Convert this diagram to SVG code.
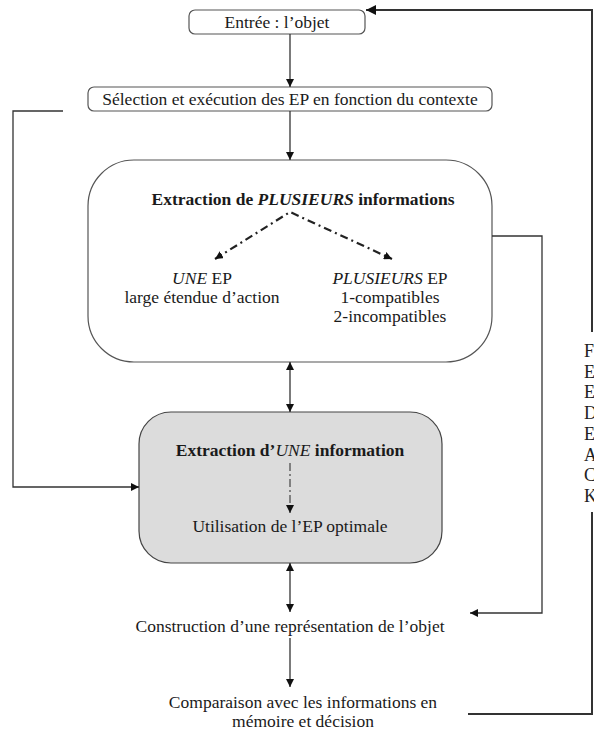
<svg xmlns="http://www.w3.org/2000/svg" width="594" height="731" viewBox="0 0 594 731">
<style>
text{font-family:"Liberation Serif","Times New Roman",serif;font-size:17.5px;fill:#1a1a1a;}
.c{text-anchor:middle;}
.b{font-weight:bold;}
.i{font-style:italic;}
.box{fill:#fff;stroke:#555;stroke-width:1.2;}
.gray{fill:#dcdcdc;stroke:#444;stroke-width:1.2;}
.ln{fill:none;stroke:#333;stroke-width:1.3;}
.fb{fill:none;stroke:#333;stroke-width:2;}
.dd{fill:none;stroke:#222;stroke-width:2.2;stroke-dasharray:8 4 2 4;}
.dd2{fill:none;stroke:#444;stroke-width:1.2;stroke-dasharray:8 3 2 3;}
.fbt{font-family:"Liberation Serif","Times New Roman",serif;font-size:18px;fill:#222;}
</style>
<defs>
<marker id="ah" viewBox="0 0 10 10" refX="10" refY="5" markerWidth="8" markerHeight="8" markerUnits="userSpaceOnUse" orient="auto-start-reverse"><path d="M0,0 L10,5 L0,10 z" fill="#111"/></marker>
<marker id="ahb" viewBox="0 0 10 10" refX="10" refY="5" markerWidth="10" markerHeight="10" markerUnits="userSpaceOnUse" orient="auto-start-reverse"><path d="M0,0 L10,5 L0,10 z" fill="#111"/></marker>
</defs>
<rect width="594" height="731" fill="#fff"/>

<g id="entree">
<rect class="box" x="189" y="10" width="176" height="24" rx="6"/>
<text class="c" x="277" y="28">Entrée : l’objet</text>
</g>

<g id="selection">
<rect class="box" x="88" y="87" width="404" height="24" rx="6"/>
<text class="c" x="290" y="105">Sélection et exécution des EP en fonction du contexte</text>
</g>

<g id="plusieurs">
<rect class="box" x="88" y="160" width="404" height="202" rx="46"/>
<text class="c b" x="303" y="205">Extraction de <tspan class="i">PLUSIEURS</tspan> informations</text>
<text class="c" x="202" y="284"><tspan class="i">UNE</tspan> EP</text>
<text class="c" x="202" y="303">large étendue d’action</text>
<text class="c" x="390" y="284"><tspan class="i">PLUSIEURS</tspan> EP</text>
<text class="c" x="390" y="303">1-compatibles</text>
<text class="c" x="390" y="322">2-incompatibles</text>
</g>

<g id="une">
<rect class="gray" x="139" y="412" width="303" height="151" rx="32"/>
<text class="c b" x="290" y="456">Extraction d’<tspan class="i" font-weight="normal">UNE</tspan> information</text>
<text class="c" x="290" y="532">Utilisation de l’EP optimale</text>
</g>

<g id="construction">
<text class="c" x="290" y="632">Construction d’une représentation de l’objet</text>
</g>

<g id="comparaison">
<text class="c" x="303" y="708">Comparaison avec les informations en</text>
<text class="c" x="303" y="727">mémoire et décision</text>
</g>

<g id="feedback">
<text class="fbt" x="584" y="357">F</text>
<text class="fbt" x="584" y="378">E</text>
<text class="fbt" x="584" y="398">E</text>
<text class="fbt" x="584" y="419">D</text>
<text class="fbt" x="584" y="440">E</text>
<text class="fbt" x="584" y="461">A</text>
<text class="fbt" x="584" y="481">C</text>
<text class="fbt" x="584" y="502">K</text>
</g>

<g id="connectors">
<line class="ln" x1="290" y1="34" x2="290" y2="87" marker-end="url(#ah)"/>
<line class="ln" x1="290" y1="111" x2="290" y2="160" marker-end="url(#ah)"/>
<polyline class="ln" points="63,111 13,111 13,487 139,487" marker-end="url(#ah)"/>
<line class="ln" x1="290" y1="362" x2="290" y2="412" marker-start="url(#ah)" marker-end="url(#ah)"/>
<line class="ln" x1="290" y1="563" x2="290" y2="612" marker-start="url(#ah)" marker-end="url(#ah)"/>
<line class="ln" x1="290" y1="638" x2="290" y2="687" marker-end="url(#ah)"/>
<polyline class="ln" points="492,236 542,236 542,613 470,613" marker-end="url(#ah)"/>
<polyline class="fb" points="468,714 592,714 592,512"/>
<polyline class="fb" points="592,332 592,10 366,10" marker-end="url(#ahb)"/>
<polyline class="dd" points="215,259 290,212 392,259" marker-start="url(#ah)" marker-end="url(#ah)"/>
<line class="dd2" x1="290" y1="463" x2="290" y2="513" marker-end="url(#ah)"/>
</g>
</svg>
